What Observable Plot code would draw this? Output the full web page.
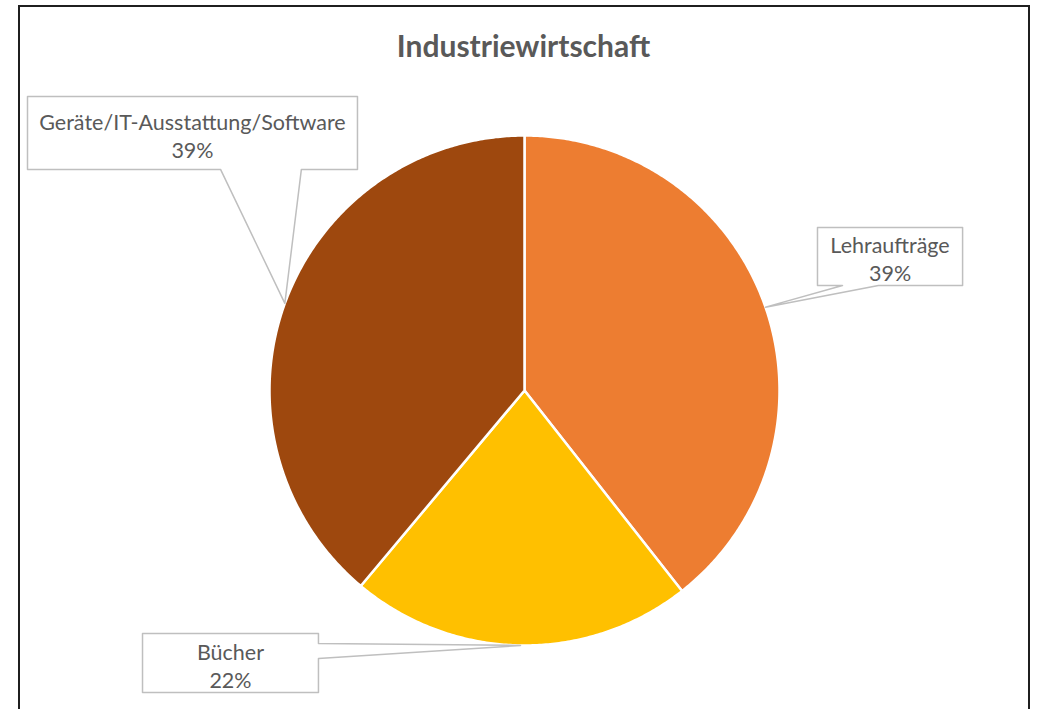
<!DOCTYPE html>
<html><head><meta charset="utf-8">
<script src="https://cdn.jsdelivr.net/npm/d3@7"></script>
<script src="https://cdn.jsdelivr.net/npm/@observablehq/plot@0.6"></script>
<style>
html,body{margin:0;padding:0;background:#fff;overflow:hidden;}
#wrap{position:relative;width:1038px;height:709px;overflow:hidden;background:#fff;}
#frame{position:absolute;left:18px;top:5px;width:1012px;height:730px;border:2px solid #1f1f1f;box-sizing:border-box;}
#title{position:absolute;left:19px;width:1009px;top:27px;text-align:center;font-family:Lato,"Open Sans",sans-serif;font-weight:bold;font-size:30px;color:#595959;line-height:36px;}
#chart{position:absolute;left:0;top:0;}
</style></head>
<body>
<div id="wrap"><div id="frame"></div><div id="title">Industriewirtschaft</div><div id="chart"></div></div>
<script>
// ---- data ----
const categories = ["Lehraufträge", "Bücher", "Geräte/IT-Ausstattung/Software"];
const shares = [39.4, 21.7, 38.9];
const colors = ["#ED7D31", "#FFC000", "#9E480E"];

// ---- label layout (in pie-radius units, pie centre = 0,0) ----
const labelLayout = [
  {box: [1.149, 0.412, 1.718, 0.639], edge: "bottom", base: [1.247, 1.388]},
  {box: [-1.498, -1.184, -0.808, -0.953], edge: "right", base: [-0.992, -1.051]},
  {box: [-1.949, 0.867, -0.655, 1.153], edge: "bottom", base: [-1.192, -0.875]}
];

const total = d3.sum(shares);
const arcs = d3.pie().sort(null).value(d => d)(shares);

// slice polygons
const slicePts = [];
arcs.forEach((a, i) => {
  slicePts.push({k: i, x: 0, y: 0});
  const n = Math.max(2, Math.ceil((a.endAngle - a.startAngle) / (Math.PI / 360)));
  for (let j = 0; j <= n; j++) {
    const t = a.startAngle + (a.endAngle - a.startAngle) * j / n;
    slicePts.push({k: i, x: Math.sin(t), y: Math.cos(t)});
  }
  slicePts.push({k: i, x: 0, y: 0});
});

// callout polygons
const calloutPts = [];
const labels = [];
arcs.forEach((a, i) => {
  const L = labelLayout[i];
  const [x0, y0, x1, y1] = L.box;
  const mid = (a.startAngle + a.endAngle) / 2;
  const tip = [Math.sin(mid), Math.cos(mid)];
  let pts;
  if (L.edge === "bottom") {
    const [bl, br] = [Math.min(...L.base), Math.max(...L.base)];
    pts = [[x0, y1], [x1, y1], [x1, y0], [br, y0], tip, [bl, y0], [x0, y0], [x0, y1]];
  } else {
    const [bt, bb] = [Math.max(...L.base), Math.min(...L.base)];
    pts = [[x0, y1], [x1, y1], [x1, bt], tip, [x1, bb], [x1, y0], [x0, y0], [x0, y1]];
  }
  pts.forEach(p => calloutPts.push({k: i, x: p[0], y: p[1]}));
  labels.push({x: (x0 + x1) / 2, y: (y0 + y1) / 2, text: `${categories[i]}\n${Math.round(shares[i] / total * 100)}%`});
});

const chart = Plot.plot({
  width: 1038,
  height: 709,
  marginLeft: 269,
  marginRight: 259,
  marginTop: 135,
  marginBottom: 64,
  x: {domain: [-1, 1], axis: null},
  y: {domain: [-1, 1], axis: null},
  style: {background: "transparent", overflow: "visible"},
  marks: [
    Plot.line(slicePts, {x: "x", y: "y", z: "k", fill: d => colors[d.k], stroke: "#fff", strokeWidth: 2.5, curve: "linear", strokeLinejoin: "round"}),
    Plot.line(calloutPts, {x: "x", y: "y", z: "k", fill: "#fff", stroke: "#BFBFBF", strokeWidth: 1.5, curve: "linear"}),
    Plot.text(labels, {x: "x", y: "y", text: "text", fontSize: 21.5, fill: "#595959", fontFamily: "Lato, 'Open Sans', sans-serif", lineHeight: 1.3, dy: 2})
  ]
});
document.getElementById("chart").appendChild(chart);
</script>
</body></html>
